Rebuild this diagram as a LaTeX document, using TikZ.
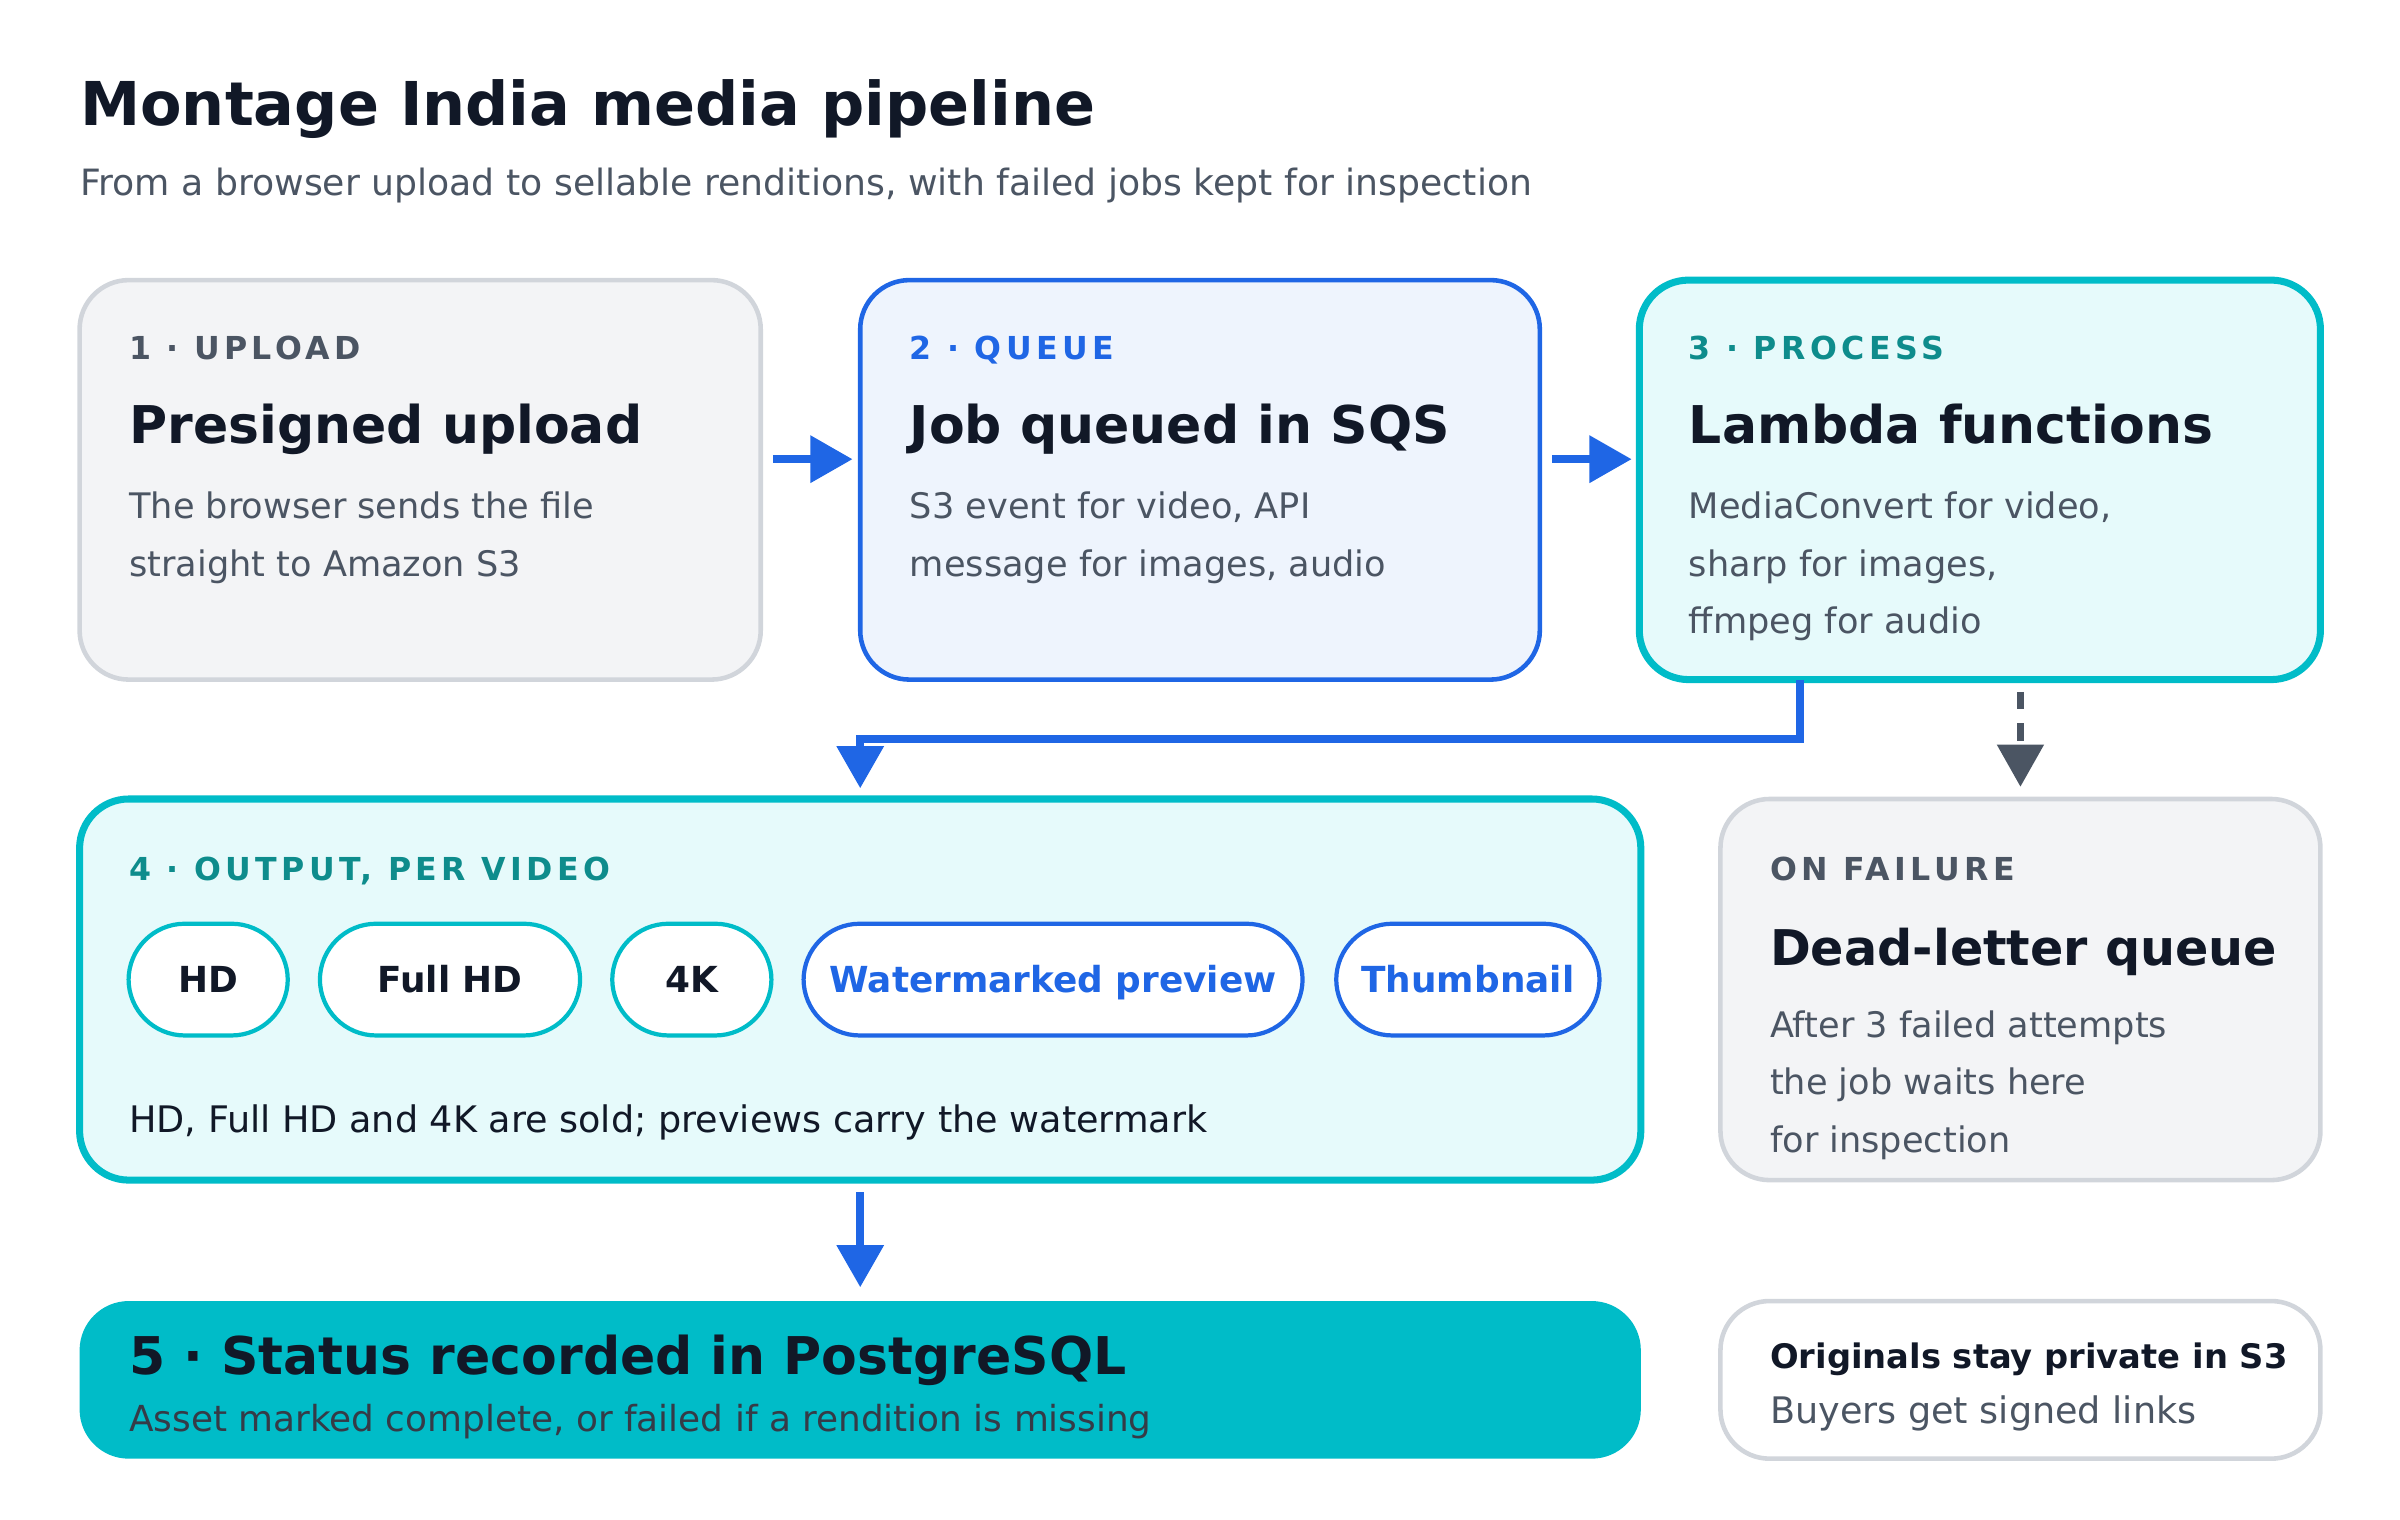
\documentclass[tikz,border=0pt]{standalone}
\usepackage{fontspec}
\setmainfont{DejaVu Sans}
\newfontfamily\spaced[LetterSpace=14]{DejaVu Sans}
\usepackage{xcolor}
\usetikzlibrary{arrows.meta,positioning}
\definecolor{ink}{HTML}{111827}
\definecolor{muted}{HTML}{4B5563}
\definecolor{greyfill}{HTML}{F3F4F6}
\definecolor{greyline}{HTML}{D1D5DB}
\definecolor{blueline}{HTML}{1F66E5}
\definecolor{bluefill}{HTML}{EEF4FD}
\definecolor{tealline}{HTML}{00BCC8}
\definecolor{tealfill}{HTML}{E6FAFB}
\definecolor{tealtext}{HTML}{0E8C8C}
\def\unitpx{0.015306cm}
\begin{document}
\begin{tikzpicture}[
    x=\unitpx, y=-\unitpx,
    card/.style={rounded corners=14pt, line width=1.3pt},
    tag/.style={anchor=base west, inner sep=0pt, font=\spaced\bfseries\fontsize{9}{11}\selectfont},
    head/.style={anchor=base west, inner sep=0pt, font=\bfseries\fontsize{14.8}{18}\selectfont, text=ink},
    body/.style={anchor=north west, inner sep=0pt, align=left, text=muted, font=\fontsize{10}{16.3}\selectfont},
    pill/.style={draw=tealline, fill=white, rounded corners=16pt, line width=1.2pt, minimum height=73*\unitpx, text height=1.6ex, text depth=0.25ex, font=\bfseries\fontsize{10.2}{12}\selectfont, text=ink},
    flow/.style={-{Triangle[length=12pt,width=13pt]}, line width=2.2pt, blueline}
]
\useasboundingbox (0,0) rectangle (1568,993);

% title
\node[anchor=base west, inner sep=0pt, font=\bfseries\fontsize{17.2}{22}\selectfont, text=ink] (title) at (52,82) {Montage India media pipeline};
\node[anchor=base west, inner sep=0pt, font=\fontsize{10.3}{13}\selectfont, text=muted] (subtitle) at (52,128) {From a browser upload to sellable renditions, with failed jobs kept for inspection};

% stage cards
\draw[card, fill=greyfill, draw=greyline] (52,183) rectangle (497,444);
\node[tag, text=muted] (t1) at (84,235) {1 · UPLOAD};
\node[head] (h1) at (84,290) {Presigned upload};
\node[body] (b1) at (84,321) {The browser sends the file\\straight to Amazon S3};

\draw[card, fill=bluefill, draw=blueline] (562,183) rectangle (1006,444);
\node[tag, text=blueline] (t2) at (594,235) {2 · QUEUE};
\node[head] (h2) at (594,290) {Job queued in SQS};
\node[body] (b2) at (594,321) {S3 event for video, API\\message for images, audio};

\draw[card, fill=tealfill, draw=tealline, line width=2pt] (1071,183) rectangle (1516,444);
\node[tag, text=tealtext] (t3) at (1103,235) {3 · PROCESS};
\node[head] (h3) at (1103,290) {Lambda functions};
\node[body] (b3) at (1103,321) {MediaConvert for video,\\sharp for images,\\ffmpeg for audio};

% output card
\draw[card, fill=tealfill, draw=tealline, line width=2pt] (52,522) rectangle (1072,771);
\node[tag, text=tealtext] (t4) at (84,575) {4 · OUTPUT, PER VIDEO};
\node[pill, minimum width=104*\unitpx] (hd) at (136,640) {HD};
\node[pill, minimum width=170*\unitpx] (fhd) at (294,640) {Full HD};
\node[pill, minimum width=104*\unitpx] (fourk) at (452,640) {4K};
\node[pill, draw=blueline, text=blueline, minimum width=326*\unitpx] (wm) at (688,640) {Watermarked preview};
\node[pill, draw=blueline, text=blueline, minimum width=172*\unitpx] (thumb) at (959,640) {Thumbnail};
\node[anchor=base west, inner sep=0pt, text=ink, font=\fontsize{10.4}{13}\selectfont] (sold) at (84,740) {HD, Full HD and 4K are sold; previews carry the watermark};

% failure card
\draw[card, fill=greyfill, draw=greyline] (1124,522) rectangle (1516,771);
\node[tag, text=muted] (t6) at (1156,575) {ON FAILURE};
\node[head, font=\bfseries\fontsize{14}{17}\selectfont] (h6) at (1156,631) {Dead-letter queue};
\node[body] (b6) at (1156,660) {After 3 failed attempts\\the job waits here\\for inspection};

% status bar
\fill[tealline, rounded corners=14pt] (52,850) rectangle (1072,953);
\node[anchor=base west, inner sep=0pt, text=ink, font=\bfseries\fontsize{14.8}{18}\selectfont] (h5) at (84,898) {5 · Status recorded in PostgreSQL};
\node[anchor=base west, inner sep=0pt, text=ink!85, font=\fontsize{10.2}{13}\selectfont] (b5) at (84,935) {Asset marked complete, or failed if a rendition is missing};

% note card
\draw[card, fill=white, draw=greyline] (1124,850) rectangle (1516,953);
\node[anchor=base west, inner sep=0pt, text=ink, font=\bfseries\fontsize{9.6}{13}\selectfont] (h7) at (1156,894) {Originals stay private in S3};
\node[anchor=base west, inner sep=0pt, text=muted, font=\fontsize{10.4}{13}\selectfont] (b7) at (1156,930) {Buyers get signed links};

% connectors
\coordinate (a1) at (505,300); \coordinate (a1e) at (557,300);
\coordinate (a2) at (1014,300); \coordinate (a2e) at (1066,300);
\coordinate (p1) at (1176,444); \coordinate (p2) at (562,515);
\coordinate (d1) at (1320,452); \coordinate (d2) at (1320,514);
\coordinate (o1) at (562,779); \coordinate (o2) at (562,841);
\draw[flow] (a1) -- (a1e);
\draw[flow] (a2) -- (a2e);
\draw[flow] (p1) |- (562,483) -- (p2);
\draw[-{Triangle[length=12pt,width=13pt]}, line width=1.8pt, muted, dash pattern=on 5pt off 4pt] (d1) -- (d2);
\draw[flow] (o1) -- (o2);
\end{tikzpicture}
\end{document}
